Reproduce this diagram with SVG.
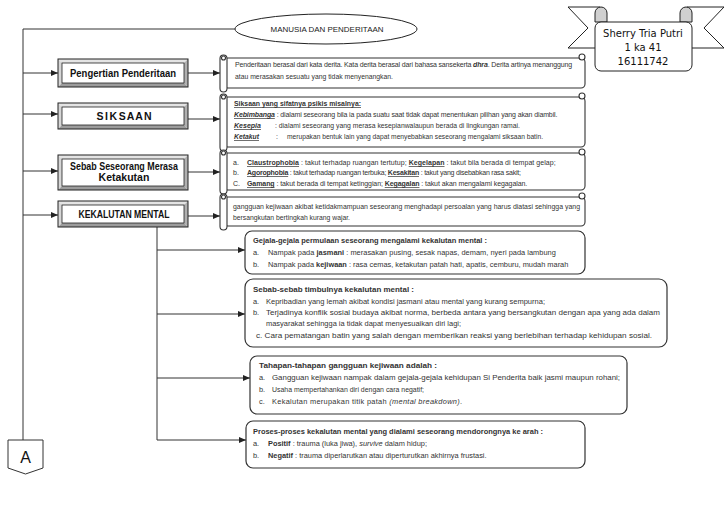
<svg xmlns="http://www.w3.org/2000/svg" width="728" height="515" viewBox="0 0 728 515">
<defs>
<marker id="ar" markerUnits="userSpaceOnUse" markerWidth="7" markerHeight="6" refX="7" refY="3" orient="auto"><path d="M0,0 L7,3 L0,6 Z" fill="#222"/></marker>
<style>
.conn{stroke:#333;stroke-width:1;fill:none}
.t{font-family:"Liberation Sans",Arial,sans-serif;font-size:7px;fill:#333}
.t2{font-family:"Liberation Sans",Arial,sans-serif;font-size:7.4px;fill:#333}
.b{font-weight:bold}
.u{text-decoration:underline}
.i{font-style:italic}
.bt{fill:#e4e4e4}
.bl{fill:#d6d6d6}
.br{fill:#b0b0b0}
.bb{fill:#9c9c9c}
.bin{fill:#fff;stroke:#222;stroke-width:0.8}
.bout{fill:none;stroke:#222;stroke-width:1}
.lbl{font-family:"Liberation Sans",Arial,sans-serif;font-weight:bold;font-size:10.5px;fill:#111;text-anchor:middle}
.sc{fill:#fff;stroke:#333;stroke-width:1.1}
.rb{fill:#fff;stroke:#333;stroke-width:1.2}
.rib{fill:#fff;stroke:#222;stroke-width:1}
.ribt{font-family:"DejaVu Sans","Liberation Sans",sans-serif;font-size:10px;fill:#111;text-anchor:middle}
</style>
</defs>
<rect width="728" height="515" fill="#fff"/>

<g id="connectors">
<path class="conn" d="M235,29 H23 V440"/>
<path class="conn" marker-end="url(#ar)" d="M23,73 H58"/>
<path class="conn" marker-end="url(#ar)" d="M23,114 H58"/>
<path class="conn" marker-end="url(#ar)" d="M23,171 H58"/>
<path class="conn" marker-end="url(#ar)" d="M23,215 H58"/>
<path class="conn" marker-end="url(#ar)" d="M188,73 H220"/>
<path class="conn" marker-end="url(#ar)" d="M188,119 H220"/>
<path class="conn" marker-end="url(#ar)" d="M188,172 H220"/>
<path class="conn" marker-end="url(#ar)" d="M188,216 H220"/>
<path class="conn" d="M157,227 V440"/>
<path class="conn" marker-end="url(#ar)" d="M157,250 H245"/>
<path class="conn" marker-end="url(#ar)" d="M157,314 H245"/>
<path class="conn" marker-end="url(#ar)" d="M157,378 H250"/>
<path class="conn" marker-end="url(#ar)" d="M157,440 H246"/>
</g>

<g id="title">
<ellipse cx="326" cy="29" rx="91" ry="15" fill="#fff" stroke="#222" stroke-width="1"/>
<text x="327" y="32" font-family="Liberation Sans,Arial,sans-serif" font-size="8px" fill="#222" text-anchor="middle" textLength="113" lengthAdjust="spacingAndGlyphs">MANUSIA DAN PENDERITAAN</text>
</g>

<g id="author">
<path class="rib" d="M600,7 H568 L588,28 L568,48 H600"/>
<path class="rib" d="M687,7 H724 L704,28 L724,48 H687"/>
<path d="M595,22 V13 A6,6 0 0 1 607,13 V22 Z" fill="#d0d0d0" stroke="#222" stroke-width="1"/>
<path d="M680,22 V13 A6,6 0 0 1 692,13 V22 Z" fill="#d0d0d0" stroke="#222" stroke-width="1"/>
<rect class="rib" x="595" y="22" width="97" height="49" rx="6"/>
<text class="ribt" x="643" y="37">Sherry Tria Putri</text>
<text class="ribt" x="643" y="51">1 ka 41</text>
<text class="ribt" x="643" y="65">16111742</text>
</g>

<g id="node-pengertian">
<polygon class="bt" points="58,59 188,59 184,63 62,63"/>
<polygon class="bl" points="58,59 62,63 62,83 58,87"/>
<polygon class="br" points="188,59 188,87 184,83 184,63"/>
<polygon class="bb" points="58,87 188,87 184,83 62,83"/>
<rect class="bin" x="62" y="63" width="122" height="20"/>
<rect class="bout" x="58" y="59" width="130" height="28"/>
<text class="lbl" x="123" y="77" textLength="106" lengthAdjust="spacingAndGlyphs">Pengertian Penderitaan</text>
</g>

<g id="node-siksaan">
<polygon class="bt" points="58,103 188,103 184,107 62,107"/>
<polygon class="bl" points="58,103 62,107 62,125 58,129"/>
<polygon class="br" points="188,103 188,129 184,125 184,107"/>
<polygon class="bb" points="58,129 188,129 184,125 62,125"/>
<rect class="bin" x="62" y="107" width="122" height="18"/>
<rect class="bout" x="58" y="103" width="130" height="26"/>
<text class="lbl" x="124" y="120" textLength="55" lengthAdjust="spacing">S I K S A A N</text>
</g>

<g id="node-sebab">
<polygon class="bt" points="58,155 188,155 184,159 62,159"/>
<polygon class="bl" points="58,155 62,159 62,186 58,190"/>
<polygon class="br" points="188,155 188,190 184,186 184,159"/>
<polygon class="bb" points="58,190 188,190 184,186 62,186"/>
<rect class="bin" x="62" y="159" width="122" height="27"/>
<rect class="bout" x="58" y="155" width="130" height="35"/>
<text class="lbl" x="124" y="170" font-size="9.5px" textLength="108" lengthAdjust="spacingAndGlyphs">Sebab Seseorang Merasa</text>
<text class="lbl" x="124" y="181" font-size="9.5px">Ketakutan</text>
</g>

<g id="node-kekalutan">
<polygon class="bt" points="58,201 188,201 184,205 62,205"/>
<polygon class="bl" points="58,201 62,205 62,223 58,227"/>
<polygon class="br" points="188,201 188,227 184,223 184,205"/>
<polygon class="bb" points="58,227 188,227 184,223 62,223"/>
<rect class="bin" x="62" y="205" width="122" height="18"/>
<rect class="bout" x="58" y="201" width="130" height="26"/>
<text class="lbl" x="124" y="218" textLength="91" lengthAdjust="spacingAndGlyphs">KEKALUTAN MENTAL</text>
</g>

<g id="scroll-pengertian">
<rect class="sc" x="224" y="58" width="361" height="30" rx="4"/>
<circle class="sc" cx="582" cy="57" r="3"/>
<rect class="sc" x="220" y="55" width="7" height="37" rx="3.5"/>
<circle class="sc" cx="223.5" cy="58" r="2"/>
<text class="t" x="235" y="67" letter-spacing="-0.15">Penderitaan berasal dari kata derita. Kata derita berasal dari bahasa sansekerta <tspan class="b i">dhra</tspan>. Derita artinya menanggung</text>
<text class="t" x="235" y="79" textLength="158" lengthAdjust="spacingAndGlyphs">atau merasakan sesuatu yang tidak menyenangkan.</text>
</g>

<g id="scroll-siksaan">
<rect class="sc" x="224" y="97" width="361" height="50" rx="4"/>
<circle class="sc" cx="582" cy="96" r="3"/>
<rect class="sc" x="220" y="94" width="7" height="57" rx="3.5"/>
<circle class="sc" cx="223.5" cy="97" r="2"/>
<text class="t b u" x="234" y="106" textLength="127" lengthAdjust="spacingAndGlyphs">Siksaan yang sifatnya psikis misalnya:</text>
<text class="t" x="234" y="117" letter-spacing="-0.12"><tspan class="b i u">Kebimbanga</tspan> : dialami seseorang bila ia pada suatu saat tidak dapat menentukan pilihan yang akan diambil.</text>
<text class="t b i u" x="234" y="128" textLength="27" lengthAdjust="spacingAndGlyphs">Kesepia</text>
<text class="t" x="275" y="128" textLength="245" lengthAdjust="spacingAndGlyphs">: dialami seseorang yang merasa kesepianwalaupun berada di lingkungan ramai.</text>
<text class="t b i u" x="234" y="139" textLength="25" lengthAdjust="spacingAndGlyphs">Ketakut</text>
<text class="t" x="276" y="139">:</text>
<text class="t" x="287" y="139" textLength="256" lengthAdjust="spacingAndGlyphs">merupakan bentuk lain yang dapat menyebabkan seseorang mengalami siksaan batin.</text>
</g>

<g id="scroll-sebab">
<rect class="sc" x="224" y="153" width="361" height="37" rx="4"/>
<circle class="sc" cx="582" cy="152" r="3"/>
<rect class="sc" x="220" y="150" width="7" height="44" rx="3.5"/>
<circle class="sc" cx="223.5" cy="153" r="2"/>
<text class="t" x="233" y="165">a.</text>
<text class="t" x="247" y="165" letter-spacing="0.05"><tspan class="b u">Claustrophobia</tspan> : takut terhadap ruangan tertutup; <tspan class="b u">Kegelapan</tspan> : takut bila berada di tempat gelap;</text>
<text class="t" x="233" y="175">b.</text>
<text class="t" x="247" y="175" letter-spacing="-0.22"><tspan class="b u">Agorophobia</tspan> : takut terhadap ruangan terbuka; <tspan class="b u">Kesakitan</tspan> : takut yang disebabkan rasa sakit;</text>
<text class="t" x="233" y="186">C.</text>
<text class="t" x="247" y="186" letter-spacing="-0.08"><tspan class="b u">Gamang</tspan> : takut berada di tempat ketinggian; <tspan class="b u">Kegagalan</tspan> : takut akan mengalami kegagalan.</text>
</g>

<g id="scroll-kekalutan">
<rect class="sc" x="224" y="197" width="361" height="29" rx="4"/>
<circle class="sc" cx="582" cy="196" r="3"/>
<rect class="sc" x="220" y="194" width="7" height="36" rx="3.5"/>
<circle class="sc" cx="223.5" cy="197" r="2"/>
<text class="t" x="233" y="209" textLength="347" lengthAdjust="spacingAndGlyphs">gangguan kejiwaan akibat ketidakmampuan seseorang menghadapi persoalan yang harus diatasi sehingga yang</text>
<text class="t" x="233" y="220" textLength="117" lengthAdjust="spacingAndGlyphs">bersangkutan bertingkah kurang wajar.</text>
</g>

<g id="node-gejala">
<rect class="rb" x="245" y="231" width="340" height="43" rx="7"/>
<text class="t2 b" x="253" y="243" textLength="234" lengthAdjust="spacingAndGlyphs">Gejala-gejala permulaan seseorang mengalami kekalutan mental :</text>
<text class="t2" x="253" y="255">a.</text>
<text class="t2" x="268" y="255" letter-spacing="0.03">Nampak pada <tspan class="b">jasmani</tspan> : merasakan pusing, sesak napas, demam, nyeri pada lambung</text>
<text class="t2" x="253" y="267">b.</text>
<text class="t2" x="268" y="267">Nampak pada <tspan class="b">kejiwaan</tspan> : rasa cemas, ketakutan patah hati, apatis, cemburu, mudah marah</text>
</g>

<g id="node-sebabsebab">
<rect class="rb" x="245" y="279" width="422" height="68" rx="8"/>
<text class="t2 b" x="253" y="292" textLength="161" lengthAdjust="spacingAndGlyphs">Sebab-sebab timbulnya kekalutan mental :</text>
<text class="t2" x="253" y="304">a.</text>
<text class="t2" x="266" y="304" textLength="279" lengthAdjust="spacingAndGlyphs">Kepribadian yang lemah akibat kondisi jasmani atau mental yang kurang sempurna;</text>
<text class="t2" x="253" y="315">b.</text>
<text class="t2" x="266" y="315" textLength="394" lengthAdjust="spacingAndGlyphs">Terjadinya konflik sosial budaya akibat norma, berbeda antara yang bersangkutan dengan apa yang ada dalam</text>
<text class="t2" x="266" y="326" textLength="195" lengthAdjust="spacingAndGlyphs">masyarakat sehingga ia tidak dapat menyesuaikan diri lagi;</text>
<text class="t2" x="256" y="338" textLength="396" lengthAdjust="spacingAndGlyphs">c.  Cara pematangan batin yang salah dengan memberikan reaksi yang berlebihan terhadap kehidupan sosial.</text>
</g>

<g id="node-tahapan">
<rect class="rb" x="250" y="356" width="377" height="58" rx="7"/>
<text class="t2 b" x="259" y="368" textLength="178" lengthAdjust="spacingAndGlyphs">Tahapan-tahapan gangguan kejiwaan adalah :</text>
<text class="t2" x="259" y="380">a.</text>
<text class="t2" x="272" y="380" textLength="348" lengthAdjust="spacingAndGlyphs">Gangguan kejiwaan nampak dalam gejala-gejala kehidupan Si Penderita baik jasmi maupun rohani;</text>
<text class="t2" x="259" y="392">b.</text>
<text class="t2" x="272" y="392" textLength="152" lengthAdjust="spacingAndGlyphs">Usaha mempertahankan diri dengan cara negatif;</text>
<text class="t2" x="259" y="404">c.</text>
<text class="t2" x="272" y="404" letter-spacing="0.3">Kekalutan merupakan titik patah <tspan class="i">(mental breakdown)</tspan>.</text>
</g>

<g id="node-proses">
<rect class="rb" x="246" y="421" width="339" height="47" rx="7"/>
<text class="t2 b" x="253" y="434" textLength="290" lengthAdjust="spacingAndGlyphs">Proses-proses kekalutan mental yang dialami seseorang mendorongnya ke arah :</text>
<text class="t2" x="253" y="446">a.</text>
<text class="t2" x="268" y="446"><tspan class="b">Positif</tspan> : trauma (luka jiwa), <tspan class="i">survive</tspan> dalam hidup;</text>
<text class="t2" x="253" y="458">b.</text>
<text class="t2" x="268" y="458"><tspan class="b">Negatif</tspan> : trauma diperlarutkan atau diperturutkan akhirnya frustasi.</text>
</g>

<g id="node-A">
<polygon points="8,440 43,440 43,468 25.5,474 8,468" fill="#fff" stroke="#333" stroke-width="1"/>
<text x="25.5" y="463" font-family="Liberation Sans,Arial,sans-serif" font-size="16px" fill="#111" text-anchor="middle">A</text>
</g>
</svg>
